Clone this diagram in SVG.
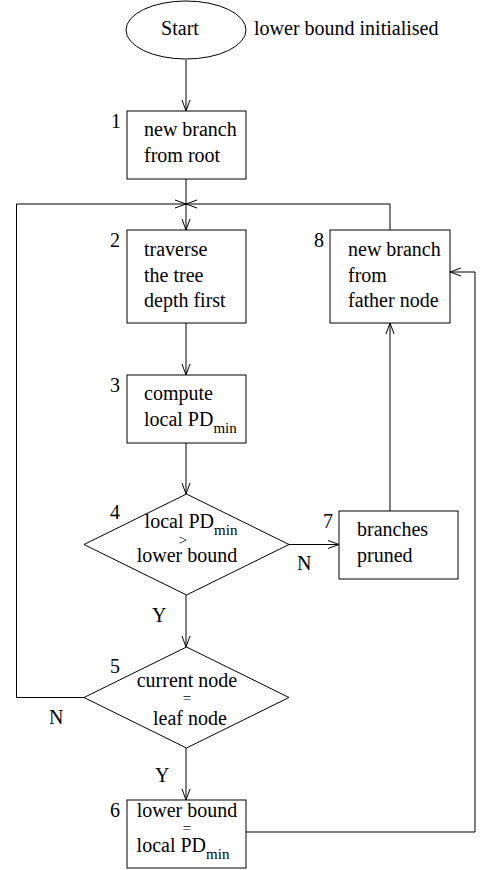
<svg xmlns="http://www.w3.org/2000/svg" width="481" height="870" viewBox="0 0 481 870">
<style>
text{font-family:"Liberation Serif","Times New Roman",serif;font-size:20px;fill:#000}
.sub{font-size:15px}
.sm{font-size:15px}
.shape{fill:#fff;stroke:#000;stroke-width:1}
.conn{fill:none;stroke:#000;stroke-width:1}
</style>
<defs>
<marker id="arr" viewBox="0 0 12 10" refX="11" refY="5" markerWidth="12" markerHeight="10" markerUnits="userSpaceOnUse" orient="auto">
<path d="M0,1 L11,5 L0,9" fill="none" stroke="#000" stroke-width="1"/>
</marker>
</defs>
<rect width="481" height="870" fill="#fff"/>
<g id="connectors">
<line class="conn" x1="186" y1="60" x2="186" y2="111" marker-end="url(#arr)"/>
<line class="conn" x1="186" y1="179" x2="186" y2="230" marker-end="url(#arr)"/>
<line class="conn" x1="186" y1="323" x2="186" y2="375" marker-end="url(#arr)"/>
<line class="conn" x1="186" y1="443" x2="186" y2="494" marker-end="url(#arr)"/>
<line class="conn" x1="186" y1="595" x2="186" y2="647" marker-end="url(#arr)"/>
<line class="conn" x1="186" y1="748" x2="186" y2="800" marker-end="url(#arr)"/>
<polyline class="conn" points="84,697.5 16.5,697.5 16.5,204 186,204" marker-end="url(#arr)"/>
<polyline class="conn" points="390,230 390,204 186,204" marker-end="url(#arr)"/>
<line class="conn" x1="289" y1="544.5" x2="339" y2="544.5" marker-end="url(#arr)"/>
<line class="conn" x1="390" y1="511" x2="390" y2="323" marker-end="url(#arr)"/>
<polyline class="conn" points="246,832 475,832 475,272 450,272" marker-end="url(#arr)"/>
<text x="297" y="570">N</text>
<text x="152" y="622">Y</text>
<text x="49" y="724">N</text>
<text x="155" y="782">Y</text>
</g>
<g id="start">
<ellipse class="shape" cx="186" cy="30" rx="60" ry="29"/>
<text x="180" y="35" text-anchor="middle">Start</text>
<text x="254" y="35">lower bound initialised</text>
</g>
<g id="n1">
<rect class="shape" x="127" y="111" width="119" height="68"/>
<text x="111" y="128">1</text>
<text x="144" y="136">new branch</text>
<text x="144" y="162">from root</text>
</g>
<g id="n2">
<rect class="shape" x="127" y="230" width="119" height="93"/>
<text x="110" y="247">2</text>
<text x="144" y="256">traverse</text>
<text x="144" y="282">the tree</text>
<text x="144" y="307">depth first</text>
</g>
<g id="n8">
<rect class="shape" x="330" y="230" width="120" height="93"/>
<text x="314" y="247">8</text>
<text x="348" y="256">new branch</text>
<text x="348" y="282">from</text>
<text x="348" y="307">father node</text>
</g>
<g id="n3">
<rect class="shape" x="127" y="375" width="119" height="68"/>
<text x="110" y="392">3</text>
<text x="144" y="400">compute</text>
<text x="144" y="426">local PD<tspan class="sub" dy="7">min</tspan></text>
</g>
<g id="n4">
<polygon class="shape" points="186.5,494 289,544.5 186.5,595 84,544.5"/>
<text x="110" y="519">4</text>
<text x="191" y="528" text-anchor="middle">local PD<tspan class="sub" dy="7">min</tspan></text>
<text x="183" y="545" text-anchor="middle" class="sm">&gt;</text>
<text x="187" y="562" text-anchor="middle">lower bound</text>
</g>
<g id="n7">
<rect class="shape" x="339" y="511" width="119" height="68"/>
<text x="323" y="528">7</text>
<text x="357" y="536">branches</text>
<text x="357" y="562">pruned</text>
</g>
<g id="n5">
<polygon class="shape" points="186.5,647 289,697.5 186.5,748 84,697.5"/>
<text x="110" y="673">5</text>
<text x="187" y="687" text-anchor="middle">current node</text>
<text x="187" y="703" text-anchor="middle" class="sm">=</text>
<text x="190" y="725" text-anchor="middle">leaf node</text>
</g>
<g id="n6">
<rect class="shape" x="127" y="800" width="119" height="68"/>
<text x="110" y="817">6</text>
<text x="187" y="817" text-anchor="middle">lower bound</text>
<text x="187" y="833" text-anchor="middle" class="sm">=</text>
<text x="183" y="852" text-anchor="middle">local PD<tspan class="sub" dy="7">min</tspan></text>
</g>
</svg>
